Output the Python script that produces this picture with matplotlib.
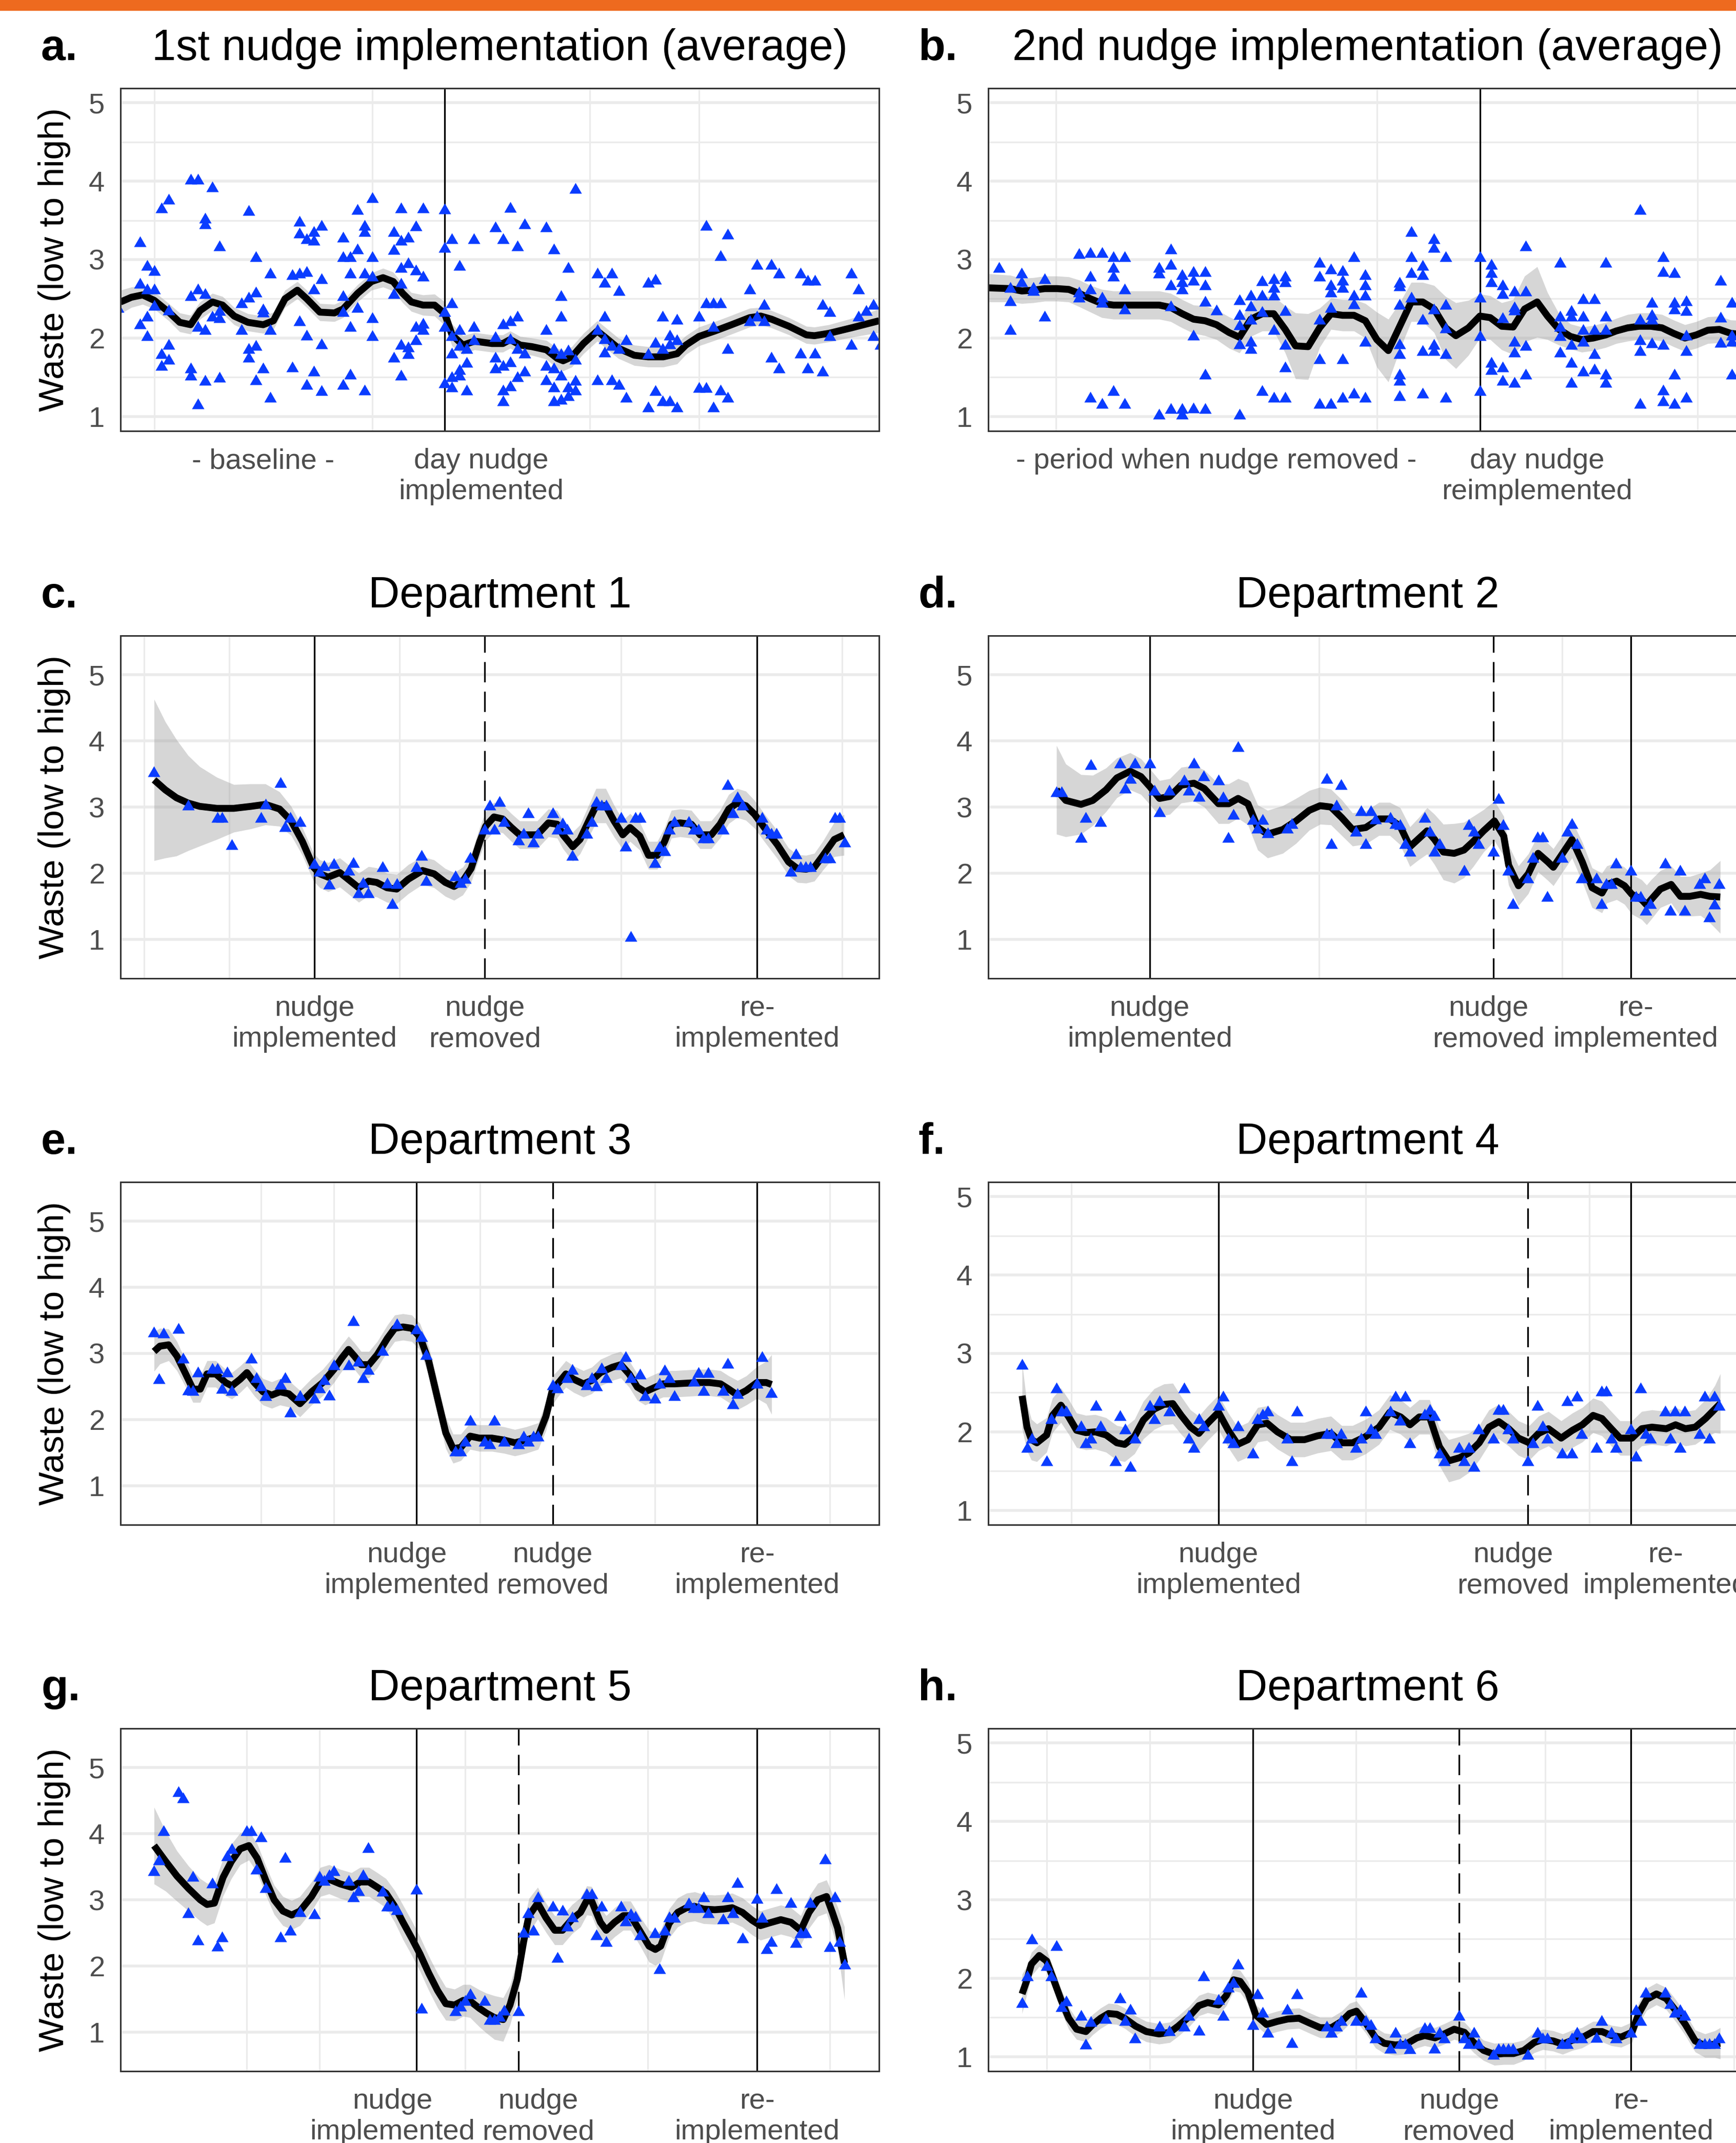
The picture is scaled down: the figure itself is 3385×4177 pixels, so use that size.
import numpy as np
import matplotlib
matplotlib.use("Agg")
import matplotlib.pyplot as plt
from matplotlib.path import Path
from matplotlib.patches import Rectangle

# ---------------- data ----------------
# panel a: 1st nudge implementation (average), several departments per day
a_days = [0, 3, 4, 5, 6, 7, 10, 11, 12, 13, 14, 17, 18, 19, 20, 21, 24, 25, 26, 27, 28,
          31, 32, 33, 34, 35, 38, 39, 40, 41, 42, 45, 46, 47, 48, 49, 52, 53, 54, 55, 56,
          59, 60, 61, 62, 63, 66, 67, 68, 69, 70, 73, 74, 75, 76, 77, 80, 81, 82, 83, 84,
          87, 88, 89, 90, 91, 94, 95, 96, 97, 98, 101, 102, 103, 104, 105]
a_vals = [[2.37], [3.21, 2.68, 2.16], [2.91, 2.61, 2.26, 2.01], [2.84, 2.61, 2.40], [3.64, 1.78, 1.63],
          [3.75, 2.34, 1.90, 1.71], [4.01, 2.52, 1.60, 1.51], [4.01, 2.61, 2.13, 1.14],
          [2.55, 3.51, 3.44, 2.09, 1.44], [3.91, 2.26], [3.16, 2.33, 2.24, 1.48], [2.43, 2.09],
          [3.61, 2.50, 1.85, 1.74], [3.02, 2.57, 1.89, 1.45], [2.35, 2.31, 1.60], [2.81, 2.09, 1.23],
          [2.79, 1.61], [3.47, 3.32, 2.81, 2.20], [3.25, 2.83, 2.02, 1.39], [3.34, 3.23, 2.61, 1.56],
          [3.42, 2.74, 1.91, 1.31], [3.27, 3.02, 2.52, 2.32, 1.39], [3.02, 2.81, 2.13, 1.52],
          [3.62, 3.12, 2.37], [3.42, 3.34, 2.81, 1.32], [3.77, 3.02, 2.77, 2.24, 2.01],
          [3.34, 3.11, 2.55, 1.74], [3.64, 3.23, 2.88, 2.68, 1.90, 1.51], [3.27, 2.94, 1.87, 1.78],
          [3.41, 2.85, 2.13, 1.96], [3.64, 2.77, 2.17, 2.09], [3.63, 3.14, 2.32, 2.13, 1.41],
          [3.25, 2.43, 2.01, 1.79, 1.49, 1.36], [2.91, 2.09, 1.89, 1.58, 1.51], [1.85, 1.67, 1.32],
          [3.25, 2.13, 1.96], [3.40, 2.00, 1.74, 1.60], [3.25, 2.16, 1.63, 1.32, 1.18],
          [3.65, 2.20, 1.97, 1.68, 1.37], [3.16, 2.26, 1.85, 1.49], [3.44, 1.79, 1.56],
          [3.40, 2.09, 1.63, 1.45], [3.12, 1.85, 1.60, 1.36, 1.18], [2.52, 2.26, 1.78, 1.51, 1.20],
          [2.88, 1.83, 1.36, 1.25], [3.89, 1.71, 1.44, 1.32], [2.81, 2.09, 1.45],
          [2.69, 2.26, 1.97, 1.80], [2.81, 1.89, 1.45], [2.59, 1.85, 1.39], [1.96, 1.23],
          [2.69, 1.78, 1.10], [2.73, 1.93, 1.31], [2.26, 1.85, 1.18], [2.02, 1.91, 1.18],
          [2.22, 1.96, 1.10], [2.26, 1.35], [3.42, 2.43, 1.35], [2.43, 2.13, 1.10],
          [3.03, 2.43, 1.32], [3.31, 1.85, 1.23], [2.61, 2.20], [2.92, 2.26], [2.41, 2.20],
          [2.92, 1.74], [2.81, 1.60], [2.81, 1.79], [2.72, 1.60], [2.72, 1.79], [2.41, 1.56],
          [2.32, 2.01], [2.81, 1.90], [2.61, 2.26], [2.33], [2.41, 2.01], [1.90]]
a_fit_day = [0.35, 1.85, 3.4, 5, 7, 8.5, 10, 11.3, 13, 14.4, 16, 17.9, 20, 21.4, 23, 24.7, 26, 27.8,
             29.8, 31, 33, 34.9, 36.5, 37.9, 39.2, 40.4, 42, 43.6, 45, 46, 47.5, 49.1, 51.5, 53,
             54, 55.4, 57, 59, 60.5, 61.3, 62.5, 64.1, 66, 67.2, 68.9, 71.1, 73, 75.1, 77, 78.2,
             80, 82.2, 84.5, 87, 88.5, 90, 92.4, 94.8, 95.9, 97.9, 101, 104.8]
a_fit = [2.46, 2.52, 2.55, 2.48, 2.33, 2.20, 2.17, 2.35, 2.46, 2.42, 2.28, 2.20, 2.17, 2.22, 2.50,
         2.61, 2.50, 2.33, 2.32, 2.37, 2.57, 2.72, 2.77, 2.72, 2.57, 2.46, 2.42, 2.42, 2.31, 2.04,
         1.91, 1.96, 1.93, 1.93, 1.98, 1.91, 1.89, 1.85, 1.74, 1.71, 1.76, 1.93, 2.09, 2.00, 1.87,
         1.78, 1.76, 1.76, 1.80, 1.91, 2.02, 2.09, 2.17, 2.26, 2.28, 2.24, 2.15, 2.04, 2.03, 2.06,
         2.13, 2.22]
a_se = [0.15, 0.13, 0.12, 0.11, 0.11, 0.12, 0.12, 0.11, 0.11, 0.11, 0.11, 0.11, 0.11, 0.11, 0.11,
        0.11, 0.11, 0.11, 0.11, 0.11, 0.11, 0.11, 0.12, 0.12, 0.12, 0.12, 0.13, 0.14, 0.15, 0.14,
        0.12, 0.11, 0.11, 0.11, 0.11, 0.11, 0.11, 0.12, 0.13, 0.13, 0.13, 0.13, 0.13, 0.13, 0.13,
        0.13, 0.13, 0.13, 0.13, 0.12, 0.12, 0.12, 0.12, 0.12, 0.11, 0.11, 0.11, 0.11, 0.11, 0.11,
        0.12, 0.15]

# panel b: 2nd nudge implementation (average)
b_days = [1, 2, 3, 4, 5, 8, 9, 10, 11, 12, 15, 16, 17, 18, 19, 20, 22, 23, 24, 25, 26, 29, 30, 31,
          32, 33, 36, 37, 38, 39, 40, 43, 44, 45, 46, 47, 50, 51, 52, 53, 54, 57, 58, 59, 60, 61,
          64, 65]
b_vals = [[2.88], [2.63, 2.46, 2.09], [2.81, 2.70], [2.63, 2.59], [2.74, 2.26], [3.06, 2.57, 2.50],
          [3.07, 2.77, 2.61, 1.23], [3.07, 2.50, 2.44, 1.15], [3.02, 2.88, 2.77, 1.31],
          [3.02, 2.61, 2.35, 1.15], [2.88, 2.81, 1.01], [3.12, 2.92, 2.66, 2.39, 1.08],
          [2.79, 2.70, 2.61, 1.08, 1.01], [2.83, 2.72, 2.02, 1.09], [2.83, 2.66, 2.45, 1.52, 1.08],
          [2.34], [2.47, 2.28, 2.15, 1.91, 1.01], [2.53, 2.39, 2.22, 1.94, 1.85],
          [2.71, 2.53, 2.32, 1.31], [2.74, 2.63, 2.53, 2.09, 1.23], [2.77, 2.70, 2.33, 1.90, 1.61, 1.23],
          [2.95, 2.77, 2.22, 1.72, 1.15], [2.86, 2.66, 2.57, 2.37, 1.15], [2.84, 2.72, 2.63, 1.72, 1.23],
          [3.02, 2.53, 2.42, 1.28], [2.79, 2.66, 2.53, 1.94, 1.23],
          [2.69, 2.65, 2.41, 1.91, 1.78, 1.52, 1.44, 1.25], [3.34, 3.02, 2.82, 2.50],
          [2.91, 2.79, 2.22, 1.82, 1.28], [3.25, 3.14, 2.35, 1.90, 1.82], [3.02, 2.41, 2.11, 1.78, 1.23],
          [3.02, 2.50, 2.01, 1.31], [2.92, 2.82, 2.70, 1.67, 1.58], [2.66, 2.55, 2.24, 1.61, 1.44],
          [2.58, 2.38, 2.34, 1.94, 1.80, 1.42], [3.16, 2.58, 1.89, 1.52], [2.95, 2.26, 2.13, 2.01, 1.80],
          [2.33, 2.26, 1.90, 1.67, 1.42], [2.48, 2.26, 2.09, 1.94, 1.56], [2.48, 2.09, 1.78, 1.59],
          [2.95, 2.26, 2.09, 1.52, 1.42], [3.62, 2.22, 1.96, 1.82, 1.15], [2.44, 2.28, 2.22, 1.92],
          [3.02, 2.83, 1.90, 1.32, 1.18], [2.82, 2.44, 2.35, 1.52, 1.15], [2.46, 2.33, 2.02, 1.82, 1.23],
          [2.72, 2.25, 1.93], [2.44, 2.02, 1.94, 1.52]]
b_fit_day = [0.07, 2, 3, 4, 5, 6.1, 7.1, 8, 9, 10, 11, 12, 13.6, 15, 16, 17, 18, 19, 20, 21.1, 22,
             23, 24, 25, 26, 26.9, 28, 29, 30, 31, 32, 33, 34, 35, 36, 37, 38, 39, 40, 40.9, 42, 43,
             43.9, 44.9, 45.9, 46.9, 48, 48.9, 49.9, 50.9, 51.9, 52.9, 54, 54.9, 55.9, 56.9, 57.9,
             58.9, 59.9, 60.9, 61.9, 62.9, 63.9, 64.9, 66.3]
b_fit = [2.64, 2.63, 2.60, 2.61, 2.63, 2.63, 2.62, 2.57, 2.50, 2.44, 2.42, 2.42, 2.42, 2.42, 2.39,
         2.31, 2.24, 2.22, 2.17, 2.07, 2.01, 2.24, 2.31, 2.31, 2.11, 1.90, 1.89, 2.13, 2.31, 2.29,
         2.29, 2.22, 1.98, 1.84, 2.15, 2.46, 2.46, 2.37, 2.13, 2.03, 2.13, 2.28, 2.26, 2.15, 2.14,
         2.37, 2.46, 2.28, 2.11, 2.02, 1.98, 2.00, 2.04, 2.09, 2.13, 2.15, 2.15, 2.13, 2.06, 2.00,
         2.04, 2.10, 2.11, 2.06, 2.04]
b_se = [0.18, 0.17, 0.16, 0.16, 0.16, 0.16, 0.16, 0.17, 0.17, 0.18, 0.18, 0.18, 0.18, 0.18, 0.18,
        0.18, 0.18, 0.19, 0.19, 0.20, 0.20, 0.22, 0.22, 0.22, 0.30, 0.42, 0.42, 0.25, 0.20, 0.20,
        0.20, 0.22, 0.35, 0.40, 0.30, 0.25, 0.25, 0.30, 0.40, 0.42, 0.35, 0.28, 0.28, 0.30, 0.35,
        0.42, 0.45, 0.30, 0.20, 0.16, 0.16, 0.16, 0.16, 0.16, 0.17, 0.17, 0.17, 0.17, 0.17, 0.17,
        0.17, 0.17, 0.17, 0.17, 0.18]

# panel c: Department 1
c_days = [7, 14, 20, 21, 23, 29, 30, 33, 34, 35, 37, 40, 41, 42, 43, 44, 47, 48, 49, 50, 51, 54, 55,
          56, 57, 61, 62, 63, 69, 70, 71, 72, 75, 76, 77, 78, 79, 82, 83, 84, 85, 86, 89, 90, 91,
          92, 93, 96, 97, 98, 99, 100, 103, 104, 105, 106, 107, 110, 111, 112, 113, 114, 117, 118,
          119, 120, 121, 124, 125, 126, 127, 128, 132, 133, 134, 135, 138, 139, 140, 141, 142,
          145, 146, 147, 148, 149]
c_vals = [3.51, 3.01, 2.82, 2.82, 2.41, 2.82, 3.02, 3.35, 2.68, 2.82, 2.76, 2.12, 2.01, 2.09, 1.81,
          2.12, 2.02, 2.14, 1.68, 1.84, 1.68, 2.08, 1.83, 1.52, 1.82, 2.08, 2.25, 1.87, 1.94, 1.84,
          1.90, 2.22, 2.64, 3.01, 2.64, 3.06, 2.76, 2.48, 2.58, 2.89, 2.45, 2.58, 2.89, 2.64, 2.74,
          2.64, 2.25, 2.58, 2.76, 3.06, 3.01, 3.01, 2.82, 2.39, 1.02, 2.82, 2.82, 2.14, 2.38, 2.32,
          2.64, 2.76, 2.76, 2.64, 2.64, 2.51, 2.51, 2.64, 3.32, 2.89, 3.13, 3.01, 2.82, 2.64, 2.58,
          2.58, 2.01, 2.27, 2.08, 2.08, 2.08, 2.21, 2.21, 2.82, 2.82, 2.45]
c_fit_day = [7, 9.3, 11.6, 14, 16.4, 19.9, 23.4, 26.9, 29.9, 32.8, 35.2, 37.5, 39.8, 41.1, 42.8,
             45.2, 46.9, 49.1, 51.1, 52.8, 54.9, 56.9, 59.3, 62.2, 64.6, 66.9, 68.7, 70.5, 72.2, 74,
             75.2, 76.9, 78.7, 80.5, 82.2, 84, 85.8, 88.1, 89.9, 91.1, 93.1, 94.6, 96.4, 97.9, 99.9,
             101.6, 103.4, 104.9, 106.9, 108.7, 110.5, 112, 113.4, 115.2, 117.5, 119.3, 121.6,
             123.4, 125.2, 126.9, 128.7, 130.5, 132.8, 135.2, 137.5, 139.3, 141.1, 142.8, 144.6,
             146.9, 148.9]
c_fit = [3.41, 3.26, 3.14, 3.06, 3.01, 2.98, 2.98, 3.01, 3.04, 2.97, 2.79, 2.48, 2.09, 1.99, 1.94,
         2.01, 1.91, 1.78, 1.88, 1.86, 1.78, 1.76, 1.91, 2.04, 1.99, 1.86, 1.80, 1.88, 2.07, 2.48,
         2.71, 2.85, 2.82, 2.69, 2.58, 2.58, 2.58, 2.76, 2.74, 2.58, 2.40, 2.51, 2.79, 3.02, 3.02,
         2.79, 2.58, 2.69, 2.56, 2.27, 2.27, 2.48, 2.74, 2.76, 2.74, 2.58, 2.58, 2.74, 2.97, 3.06,
         3.02, 2.89, 2.66, 2.43, 2.17, 2.07, 2.06, 2.09, 2.27, 2.51, 2.58]
c_se = [1.22, 1.03, 0.88, 0.72, 0.60, 0.47, 0.36, 0.34, 0.31, 0.26, 0.22, 0.21, 0.21, 0.21, 0.22,
        0.22, 0.22, 0.22, 0.22, 0.22, 0.22, 0.22, 0.22, 0.21, 0.21, 0.21, 0.21, 0.21, 0.21, 0.22,
        0.22, 0.22, 0.21, 0.21, 0.21, 0.21, 0.21, 0.21, 0.21, 0.21, 0.22, 0.22, 0.24, 0.26, 0.26,
        0.24, 0.22, 0.21, 0.21, 0.21, 0.21, 0.21, 0.21, 0.21, 0.21, 0.21, 0.21, 0.21, 0.22, 0.22,
        0.22, 0.21, 0.21, 0.21, 0.21, 0.21, 0.21, 0.21, 0.22, 0.26, 0.31]

# panel d: Department 2
d_days = [14, 15, 19, 20, 21, 23, 27, 28, 29, 30, 33, 34, 35, 37, 40, 41, 42, 43, 44, 47, 48, 49,
          50, 51, 54, 55, 56, 57, 61, 62, 69, 70, 71, 72, 75, 76, 77, 78, 79, 82, 83, 84, 85, 86,
          89, 90, 91, 92, 97, 98, 99, 100, 103, 104, 105, 106, 107, 110, 111, 112, 113, 114, 117,
          118, 119, 120, 121, 124, 125, 126, 127, 128, 131, 132, 133, 134, 135, 138, 139, 141,
          142, 145, 146, 147, 148, 149]
d_vals = [3.21, 3.21, 2.52, 2.82, 3.62, 2.76, 3.64, 3.26, 3.41, 3.64, 3.64, 3.23, 2.91, 3.23, 3.39,
          3.23, 3.64, 3.14, 3.45, 3.39, 3.13, 2.52, 2.87, 3.89, 2.79, 2.66, 2.79, 2.59, 2.66, 2.73,
          3.41, 2.43, 3.01, 3.32, 2.61, 2.92, 2.43, 2.92, 2.80, 2.82, 2.73, 2.71, 2.43, 2.31, 2.82,
          2.61, 2.31, 2.43, 2.02, 2.71, 2.61, 2.43, 2.31, 3.11, 2.71, 2.02, 1.52, 1.91, 2.22, 2.53,
          2.53, 1.63, 2.22, 2.61, 2.73, 2.43, 1.91, 1.91, 1.52, 1.82, 1.82, 2.13, 2.02, 1.63, 1.63,
          1.42, 1.52, 2.13, 1.42, 2.02, 1.42, 1.82, 1.91, 1.32, 1.51, 1.82]
d_fit_day = [14, 15.9, 19, 21.4, 24.1, 26.3, 29, 31.2, 33, 35, 37.1, 39.4, 42, 44.1, 47, 49.1, 51,
             53, 55, 57, 60.1, 62.8, 65.5, 67.7, 69.9, 72.1, 74.3, 77, 79.7, 81.9, 84, 86, 87.9,
             89.5, 91, 92.8, 95, 97, 98.9, 101, 103.2, 105.1, 106.1, 108.1, 110.1, 112.1, 114.1,
             115.2, 117.1, 119, 121.1, 123.1, 125.1, 126.1, 128.1, 129.7, 131.2, 133.2, 134.2,
             135.1, 137, 139.2, 141.1, 143, 145.2, 147.1, 149.2]
d_fit = [3.26, 3.10, 3.04, 3.10, 3.26, 3.44, 3.54, 3.46, 3.31, 3.13, 3.16, 3.33, 3.36, 3.28, 3.05,
         3.05, 3.13, 3.05, 2.69, 2.59, 2.66, 2.79, 2.95, 3.02, 3.00, 2.84, 2.66, 2.69, 2.82, 2.82,
         2.71, 2.40, 2.53, 2.64, 2.51, 2.32, 2.30, 2.35, 2.48, 2.64, 2.79, 2.56, 2.12, 1.81, 1.99,
         2.30, 2.17, 2.09, 2.30, 2.51, 2.17, 1.78, 1.70, 1.83, 1.88, 1.81, 1.68, 1.60, 1.52, 1.60,
         1.76, 1.83, 1.65, 1.65, 1.68, 1.65, 1.64]
d_se = [0.67, 0.55, 0.45, 0.38, 0.33, 0.30, 0.28, 0.27, 0.27, 0.27, 0.27, 0.27, 0.27, 0.28, 0.30,
        0.30, 0.30, 0.32, 0.34, 0.36, 0.36, 0.34, 0.30, 0.28, 0.27, 0.27, 0.25, 0.25, 0.25, 0.25,
        0.28, 0.30, 0.32, 0.35, 0.38, 0.42, 0.45, 0.42, 0.38, 0.32, 0.30, 0.30, 0.30, 0.30, 0.30,
        0.28, 0.28, 0.28, 0.28, 0.28, 0.30, 0.30, 0.30, 0.28, 0.28, 0.28, 0.30, 0.30, 0.30, 0.30,
        0.28, 0.28, 0.30, 0.30, 0.32, 0.40, 0.55]

# panel e: Department 3
e_days = [7, 8, 9, 12, 13, 14, 15, 16, 19, 20, 21, 22, 23, 27, 28, 29, 30, 33, 34, 35, 37, 40, 41,
          42, 43, 44, 47, 48, 49, 50, 51, 54, 57, 61, 62, 63, 69, 70, 71, 72, 75, 76, 77, 79, 82,
          83, 84, 85, 86, 89, 90, 92, 93, 96, 97, 98, 99, 100, 103, 104, 105, 107, 108, 110, 111,
          112, 113, 114, 118, 119, 120, 121, 124, 125, 126, 127, 131, 132, 134]
e_vals = [3.30, 2.60, 3.29, 3.36, 2.91, 2.43, 2.42, 2.70, 2.75, 2.75, 2.45, 2.70, 2.42, 2.91, 2.61,
          2.49, 2.34, 2.51, 2.61, 2.09, 2.34, 2.30, 2.46, 2.58, 2.35, 2.81, 2.81, 3.47, 2.86, 2.61,
          2.74, 3.02, 3.43, 3.35, 3.23, 2.96, 1.50, 1.50, 1.65, 1.97, 1.65, 1.61, 1.97, 1.65, 1.61,
          1.73, 1.65, 1.73, 1.73, 2.50, 2.46, 2.61, 2.74, 2.50, 2.61, 2.49, 2.76, 2.61, 2.81, 2.93,
          2.61, 2.67, 2.34, 2.30, 2.53, 2.73, 2.61, 2.34, 2.56, 2.69, 2.42, 2.69, 2.42, 2.83, 2.22,
          2.37, 2.53, 2.93, 2.39]
e_fit_day = [7, 8.2, 10, 11.7, 13.5, 15, 16.5, 17.9, 19.7, 21.7, 23, 24.7, 26.1, 27.6, 29.4, 31.2,
             32.9, 34.7, 37, 39.4, 41.7, 44, 45.6, 47, 48.2, 49.6, 51.2, 52.9, 55, 56.5, 58.2, 60,
             61.7, 63.5, 65.3, 67, 68.5, 70.1, 72, 73.9, 76.5, 79, 81.2, 83.5, 86, 87.6, 88.9, 90,
             91.7, 93.3, 95.3, 97, 98.8, 101.2, 103, 104.7, 106.4, 108, 110.1, 111.7, 114.1, 116.5,
             118.8, 121.2, 123.5, 125.2, 127, 128.8, 131, 132.9, 134]
e_fit = [3.03, 3.11, 3.13, 2.96, 2.69, 2.46, 2.46, 2.69, 2.69, 2.56, 2.51, 2.61, 2.71, 2.56, 2.42,
         2.37, 2.42, 2.39, 2.24, 2.42, 2.56, 2.76, 2.93, 3.06, 2.96, 2.83, 2.83, 2.98, 3.23, 3.38,
         3.40, 3.38, 3.25, 2.88, 2.32, 1.80, 1.56, 1.58, 1.75, 1.72, 1.72, 1.69, 1.65, 1.69, 1.75,
         2.05, 2.44, 2.54, 2.69, 2.61, 2.54, 2.59, 2.71, 2.79, 2.83, 2.69, 2.49, 2.42, 2.49, 2.54,
         2.54, 2.55, 2.56, 2.56, 2.54, 2.46, 2.37, 2.44, 2.56, 2.56, 2.53]
e_se = [0.30, 0.27, 0.24, 0.22, 0.20, 0.20, 0.20, 0.20, 0.20, 0.20, 0.20, 0.20, 0.20, 0.20, 0.20,
        0.20, 0.20, 0.20, 0.20, 0.20, 0.20, 0.20, 0.20, 0.20, 0.20, 0.20, 0.20, 0.20, 0.20, 0.20,
        0.20, 0.20, 0.20, 0.22, 0.24, 0.24, 0.22, 0.20, 0.20, 0.20, 0.20, 0.20, 0.20, 0.20, 0.20,
        0.22, 0.22, 0.20, 0.20, 0.20, 0.20, 0.20, 0.20, 0.20, 0.20, 0.20, 0.20, 0.20, 0.20, 0.20,
        0.20, 0.20, 0.20, 0.20, 0.20, 0.20, 0.22, 0.22, 0.24, 0.32, 0.45]

# panel f: Department 4
f_days = [7, 8, 9, 12, 13, 14, 15, 16, 19, 20, 21, 22, 23, 26, 27, 28, 29, 30, 33, 34, 35, 37, 40,
          41, 42, 43, 44, 47, 48, 49, 50, 51, 54, 55, 56, 57, 61, 62, 63, 69, 70, 71, 72, 75, 76,
          77, 78, 79, 82, 83, 84, 85, 86, 89, 90, 91, 92, 93, 96, 97, 98, 99, 100, 103, 104, 105,
          106, 107, 110, 111, 112, 113, 114, 117, 118, 119, 120, 121, 124, 125, 126, 127, 128,
          131, 132, 133, 134, 135, 138, 139, 140, 141, 142, 145, 146, 147, 148, 149]
f_vals = [2.84, 1.78, 1.90, 1.61, 2.15, 2.54, 2.25, 2.25, 2.06, 1.84, 1.90, 2.32, 2.06, 1.61, 2.19,
          2.02, 1.54, 1.90, 2.32, 2.15, 2.38, 2.25, 2.54, 1.90, 1.78, 2.15, 2.06, 2.32, 2.44, 1.90,
          1.84, 2.06, 1.71, 2.15, 2.21, 2.25, 1.90, 1.61, 2.25, 1.96, 1.96, 1.84, 1.96, 1.78, 1.90,
          2.25, 2.02, 1.96, 2.25, 2.44, 2.13, 2.44, 1.84, 2.21, 2.27, 2.19, 1.71, 1.61, 1.78, 1.61,
          1.78, 1.54, 2.02, 1.90, 2.27, 2.27, 2.02, 1.90, 1.61, 1.84, 2.32, 2.06, 1.90, 1.71, 2.38,
          1.71, 2.44, 1.96, 1.78, 2.50, 2.50, 1.90, 1.78, 2.02, 1.67, 2.54, 1.96, 1.90, 2.25, 1.90,
          2.25, 1.78, 2.25, 1.96, 2.44, 1.90, 2.44, 2.32]
f_fit_day = [7, 8, 8.9, 10, 12, 13.2, 14.9, 16.5, 18.1, 20, 21.9, 24.1, 26.3, 27.9, 29.9, 31.7,
             33.9, 35.9, 37.7, 39.4, 41.3, 43, 44.8, 47, 49, 50.9, 53, 55, 56.9, 59, 61.7, 64.5,
             67.2, 69.9, 72.1, 74.3, 77, 79.7, 81.9, 84.1, 86, 87.9, 90, 92, 93.9, 96.1, 98, 100.1,
             102.1, 104.1, 106.1, 108.1, 110.3, 112.2, 114.2, 116.8, 119.1, 121.1, 123.3, 125.1,
             127, 128.8, 131.2, 133.2, 135.3, 138.2, 140.1, 142.1, 144.1, 146.2, 148.1, 149.2]
f_fit = [2.46, 2.06, 1.90, 1.86, 1.96, 2.21, 2.34, 2.19, 2.02, 1.99, 2.00, 1.96, 1.86, 1.84, 1.94,
         2.15, 2.29, 2.35, 2.36, 2.21, 2.06, 1.98, 2.11, 2.25, 2.02, 1.84, 1.90, 2.09, 2.11, 2.00,
         1.90, 1.90, 1.95, 1.98, 1.86, 1.86, 1.94, 2.06, 2.25, 2.19, 2.09, 2.19, 2.19, 1.81, 1.63,
         1.67, 1.73, 1.86, 2.06, 2.13, 2.04, 1.92, 1.86, 1.98, 2.04, 1.92, 2.02, 2.09, 2.21, 2.17,
         2.04, 1.92, 1.92, 2.04, 2.06, 2.04, 2.09, 2.04, 2.06, 2.17, 2.29, 2.36]
f_se = [0.42, 0.30, 0.26, 0.24, 0.22, 0.22, 0.22, 0.22, 0.22, 0.22, 0.22, 0.22, 0.22, 0.22, 0.22,
        0.24, 0.26, 0.26, 0.26, 0.24, 0.22, 0.22, 0.22, 0.22, 0.22, 0.22, 0.22, 0.22, 0.22, 0.22,
        0.22, 0.22, 0.22, 0.22, 0.22, 0.22, 0.22, 0.22, 0.22, 0.22, 0.22, 0.22, 0.22, 0.24, 0.27,
        0.27, 0.25, 0.22, 0.22, 0.22, 0.22, 0.22, 0.22, 0.22, 0.22, 0.22, 0.22, 0.22, 0.22, 0.22,
        0.22, 0.22, 0.22, 0.22, 0.22, 0.22, 0.22, 0.22, 0.22, 0.24, 0.30, 0.38]

# panel g: Department 5
g_days = [7, 8, 9, 12, 13, 14, 15, 16, 19, 20, 21, 22, 23, 26, 27, 28, 29, 30, 33, 34, 35, 37, 40,
          41, 42, 43, 44, 47, 48, 49, 50, 51, 54, 55, 56, 57, 61, 62, 69, 70, 71, 72, 75, 76, 77,
          78, 79, 82, 83, 84, 85, 86, 89, 90, 91, 92, 93, 96, 97, 98, 99, 100, 103, 104, 105, 106,
          107, 110, 111, 112, 113, 114, 117, 118, 119, 120, 121, 124, 125, 126, 127, 128, 131,
          132, 133, 134, 135, 138, 139, 140, 141, 142, 145, 146, 147, 148, 149]
g_vals = [3.42, 3.58, 4.02, 4.61, 4.52, 2.78, 3.33, 2.37, 3.23, 2.28, 2.42, 3.64, 3.75, 4.02, 4.02,
          3.44, 3.93, 3.16, 2.42, 3.62, 2.52, 2.80, 2.77, 3.33, 3.27, 3.36, 3.42, 3.27, 3.02, 3.12,
          3.36, 3.77, 3.11, 2.88, 2.88, 2.83, 3.14, 1.34, 1.30, 1.37, 1.46, 1.56, 1.46, 1.17, 1.17,
          1.22, 1.31, 1.30, 2.49, 2.78, 2.52, 3.02, 2.88, 2.11, 2.82, 2.58, 2.72, 3.07, 3.07, 2.45,
          2.88, 2.35, 2.88, 2.66, 2.77, 2.73, 2.45, 2.48, 1.94, 2.52, 2.72, 2.71, 2.93, 2.86, 2.86,
          3.02, 2.78, 2.69, 3.02, 2.78, 3.24, 2.40, 3.00, 2.71, 2.24, 2.35, 3.15, 2.94, 2.33, 2.48,
          2.48, 2.94, 3.60, 2.27, 3.02, 2.35, 2.01]
g_fit_day = [7, 9.4, 11.7, 14.1, 16.5, 17.9, 19.4, 21.2, 22.9, 24.7, 26.5, 28.2, 30, 31.7, 33.5,
             35.3, 37, 39.4, 41.2, 43, 45.3, 47.6, 49.4, 51.2, 52.9, 54.7, 56.5, 58.2, 60, 61.7,
             63.5, 65.3, 67, 68.8, 70.6, 72, 73.9, 75.3, 77, 78.8, 80.2, 81.7, 83, 84.1, 85.9, 87.6,
             89.4, 91, 93, 94.7, 96, 97, 98.8, 100, 101.7, 103.5, 105, 107, 108.8, 110.1, 111.2,
             112.9, 114.7, 116.5, 118.2, 120, 122.3, 124.1, 125.9, 128, 130, 131.7, 133.5, 135.9,
             138, 140, 141.7, 143.5, 145.3, 146.5, 147.6, 149]
g_fit = [3.82, 3.58, 3.36, 3.17, 3.00, 2.93, 2.95, 3.34, 3.58, 3.77, 3.82, 3.63, 3.29, 3.00, 2.83,
         2.77, 2.83, 3.05, 3.27, 3.31, 3.24, 3.19, 3.27, 3.27, 3.19, 3.10, 2.90, 2.66, 2.42, 2.18,
         1.89, 1.63, 1.43, 1.41, 1.48, 1.47, 1.36, 1.29, 1.22, 1.19, 1.41, 1.80, 2.37, 2.76, 2.95,
         2.73, 2.54, 2.54, 2.71, 2.81, 2.99, 2.98, 2.66, 2.54, 2.66, 2.76, 2.76, 2.52, 2.30, 2.25,
         2.30, 2.64, 2.81, 2.88, 2.90, 2.86, 2.85, 2.86, 2.88, 2.81, 2.69, 2.61, 2.65, 2.70, 2.66,
         2.54, 2.81, 3.00, 3.05, 2.81, 2.57, 2.04]
g_se = [0.58, 0.45, 0.38, 0.34, 0.32, 0.32, 0.30, 0.28, 0.26, 0.24, 0.22, 0.22, 0.22, 0.22, 0.22,
        0.22, 0.22, 0.22, 0.22, 0.22, 0.22, 0.22, 0.22, 0.22, 0.22, 0.22, 0.24, 0.26, 0.26, 0.26,
        0.26, 0.26, 0.25, 0.24, 0.24, 0.25, 0.28, 0.30, 0.33, 0.33, 0.30, 0.30, 0.28, 0.26, 0.24,
        0.22, 0.22, 0.22, 0.22, 0.22, 0.22, 0.22, 0.22, 0.22, 0.22, 0.22, 0.22, 0.22, 0.24, 0.24,
        0.24, 0.22, 0.22, 0.22, 0.22, 0.22, 0.22, 0.22, 0.22, 0.22, 0.22, 0.22, 0.22, 0.22, 0.22,
        0.22, 0.24, 0.25, 0.25, 0.28, 0.32, 0.55]

# panel h: Department 6
h_days = [7, 8, 9, 12, 13, 14, 15, 16, 19, 20, 21, 24, 27, 28, 29, 30, 35, 37, 40, 41, 43, 44, 47,
          48, 49, 50, 51, 54, 55, 56, 57, 61, 62, 63, 69, 70, 71, 72, 75, 76, 77, 78, 79, 82, 83,
          84, 85, 86, 89, 90, 91, 92, 93, 96, 97, 98, 99, 100, 103, 104, 105, 106, 107, 110, 112,
          113, 114, 117, 118, 119, 120, 121, 124, 125, 127, 128, 131, 132, 133, 134, 138, 139,
          140, 141, 142, 145, 146, 147, 148, 149]
h_vals = [1.67, 2.01, 2.48, 2.14, 2.01, 2.40, 1.62, 1.69, 1.51, 1.14, 1.43, 1.47, 1.73, 1.44, 1.59,
          1.22, 1.37, 1.31, 1.37, 1.51, 1.32, 2.01, 1.71, 1.51, 1.87, 1.93, 2.16, 1.39, 1.78, 1.55,
          1.29, 1.59, 1.16, 1.78, 1.37, 1.29, 1.37, 1.44, 1.44, 1.80, 1.44, 1.39, 1.22, 1.09, 1.29,
          1.15, 1.15, 1.08, 1.35, 1.35, 1.09, 1.29, 1.22, 1.51, 1.22, 1.15, 1.29, 1.15, 1.01, 1.08,
          1.08, 1.08, 1.08, 1.01, 1.29, 1.22, 1.22, 1.15, 1.15, 1.22, 1.29, 1.22, 1.23, 1.44, 1.29,
          1.22, 1.29, 1.58, 1.44, 1.80, 1.80, 1.66, 1.55, 1.58, 1.51, 1.15, 1.15, 1.15, 1.15, 1.22]
h_fit_day = [7, 8, 8.9, 10.5, 12, 13.2, 14.9, 16.5, 18.1, 20, 21.4, 23, 24.6, 26.3, 27.9, 30.1,
             32.3, 34.9, 37.1, 38.8, 41, 43, 44.8, 47, 48.6, 50.1, 51.4, 53, 54.6, 56.8, 59, 61.1,
             63.4, 65.5, 67.7, 70, 72.1, 73.7, 75.1, 77, 79, 80.8, 83, 85.2, 87.4, 89, 91.1, 93, 95,
             97.1, 99, 101, 103.2, 105.1, 107.1, 109.2, 111.3, 113.1, 115.2, 117.1, 119.1, 121,
             123.3, 125.1, 127, 129, 131.2, 132.6, 134.2, 136.2, 138.2, 140.1, 142.1, 144.1, 146.1,
             148.1, 149.2]
h_fit = [1.80, 1.98, 2.18, 2.29, 2.22, 2.02, 1.73, 1.49, 1.35, 1.32, 1.41, 1.49, 1.55, 1.54, 1.49,
         1.39, 1.32, 1.29, 1.31, 1.39, 1.51, 1.65, 1.69, 1.66, 1.78, 1.98, 1.96, 1.82, 1.53, 1.41,
         1.45, 1.48, 1.49, 1.43, 1.37, 1.37, 1.45, 1.55, 1.58, 1.43, 1.24, 1.17, 1.15, 1.16, 1.24,
         1.27, 1.24, 1.29, 1.35, 1.31, 1.18, 1.08, 1.03, 1.04, 1.04, 1.08, 1.18, 1.22, 1.20, 1.16,
         1.21, 1.24, 1.32, 1.32, 1.27, 1.25, 1.31, 1.55, 1.73, 1.80, 1.74, 1.59, 1.41, 1.20, 1.14,
         1.16, 1.17]
h_se = [0.25, 0.18, 0.15, 0.14, 0.14, 0.14, 0.14, 0.14, 0.13, 0.13, 0.13, 0.13, 0.13, 0.13, 0.13,
        0.13, 0.13, 0.13, 0.13, 0.13, 0.13, 0.13, 0.13, 0.13, 0.13, 0.14, 0.14, 0.14, 0.13, 0.13,
        0.13, 0.13, 0.13, 0.13, 0.13, 0.13, 0.13, 0.13, 0.13, 0.13, 0.13, 0.13, 0.13, 0.13, 0.13,
        0.13, 0.13, 0.13, 0.13, 0.13, 0.13, 0.13, 0.14, 0.14, 0.14, 0.13, 0.13, 0.13, 0.13, 0.13,
        0.13, 0.13, 0.13, 0.13, 0.13, 0.13, 0.13, 0.14, 0.14, 0.14, 0.14, 0.14, 0.14, 0.14, 0.15,
        0.17, 0.20]

# x-axis breaks / labels and the event days (vertical lines)
LAB_IMPL = 'nudge\nimplemented'
LAB_REM = 'nudge\nremoved'
LAB_RE = 're-\nimplemented'
a_breaks, a_labels = [20, 50], ['- baseline -', 'day nudge\nimplemented']
b_breaks, b_labels = [20, 48], ['- period when nudge removed -', 'day nudge\nreimplemented']
a_solid, b_solid = [45], [43]
c_breaks, c_solid, c_dash = [40, 75, 131], [40, 131], [75]
d_breaks, d_solid, d_dash = [33, 102, 132], [33, 131], [103]
e_breaks, e_solid, e_dash = [59, 89, 131], [61, 131], [89]
f_breaks, f_solid, f_dash = [47, 107, 138], [47, 131], [110]
g_breaks, g_solid, g_dash = [56, 86, 131], [61, 131], [82]
h_breaks, h_solid, h_dash = [54, 96, 131], [54, 131], [96]

# ---------------- drawing ----------------
W, H, DPI = 3385, 4177, 100
plt.rcParams['font.family'] = ['Liberation Sans', 'DejaVu Sans']

BLUE = '#0A3CFF'
GRID = '#EBEBEB'
TICK = '#4D4D4D'
PX = 72.0 / DPI  # points per pixel

# ggplot-like filled equilateral triangle
TRI = Path([(-1.0, -0.577), (1.0, -0.577), (0.0, 1.155), (-1.0, -0.577)],
           [Path.MOVETO, Path.LINETO, Path.LINETO, Path.CLOSEPOLY])

fig = plt.figure(figsize=(W / DPI, H / DPI), dpi=DPI)
fig.patches.append(Rectangle((0, 1 - 21 / H), 1, 21 / H, transform=fig.transFigure,
                             facecolor='#EE6A1F', edgecolor='none'))


def flatten(days, groups):
    xs, ys = [], []
    for d, g in zip(days, groups):
        xs += [d] * len(g)
        ys += list(g)
    return xs, ys


def minor_breaks(breaks, lo, hi):
    # same rule as ggplot2: midpoints between (extended) major breaks
    b = list(breaks)
    bd = b[1] - b[0]
    if lo < b[0]:
        b = [b[0] - bd] + b
    if hi > b[-1]:
        b = b + [b[-1] + bd]
    cand = sorted(set(b + [(p + q) / 2 for p, q in zip(b[:-1], b[1:])]))
    return [m for m in cand if lo < m < hi and m not in breaks]


COL_X = [235, 1927]
ROW_TOP = [172, 1239, 2304, 3369]
AX_W, AX_H = 1479, 668
LETTER_X = [80, 1790]


def draw_panel(col, row, letter, title, px, py, fx, fy, fse, xlim, ylim,
               breaks, labels, solid, dashed, minor_y):
    x0, top = COL_X[col], ROW_TOP[row]
    ax = fig.add_axes([x0 / W, 1 - (top + AX_H) / H, AX_W / W, AX_H / H])
    ax.set_xlim(xlim)
    ax.set_ylim(ylim)

    for m in minor_breaks(breaks, *xlim):
        ax.axvline(m, color=GRID, lw=3.2 * PX, zorder=0.5)
    for yv in [1, 2, 3, 4, 5]:
        ax.axhline(yv, color=GRID, lw=5.5 * PX, zorder=0.5)
    if minor_y:
        for yv in [1.5, 2.5, 3.5, 4.5]:
            ax.axhline(yv, color=GRID, lw=3.2 * PX, zorder=0.5)

    fy = np.array(fy)
    fse = np.array(fse)
    ax.fill_between(fx, fy - fse, fy + fse, color='#999999', alpha=0.4, lw=0, zorder=2)
    for xv in solid:
        ax.axvline(xv, color='black', lw=3.3 * PX, zorder=2.5)
    for xv in dashed:
        ax.axvline(xv, color='black', lw=3.3 * PX, zorder=2.5, dashes=(12, 5.5))
    ax.plot(fx, fy, color='black', lw=13.5 * PX, solid_joinstyle='round',
            solid_capstyle='butt', zorder=3)
    ax.plot(px, py, ls='none', marker=TRI, ms=28 * PX, color=BLUE, mec='none', zorder=4)

    ax.set_xticks(breaks)
    ax.set_xticklabels(labels)
    ax.set_yticks([1, 2, 3, 4, 5])
    ax.tick_params(axis='both', length=0, labelsize=40.5, labelcolor=TICK)
    ax.tick_params(axis='x', pad=24)
    ax.tick_params(axis='y', pad=22)
    for t in ax.get_xticklabels():
        t.set_linespacing(1.2)
    for s in ax.spines.values():
        s.set_color('#333333')
        s.set_linewidth(3 * PX)
        s.set_zorder(10)

    ax.annotate(title, xy=(0.5, 1), xycoords='axes fraction', xytext=(0, 55 * PX),
                textcoords='offset points', ha='center', va='baseline', fontsize=61)
    fig.text(LETTER_X[col] / W, 1 - (top - 55) / H, letter, fontsize=62,
             fontweight='bold', ha='left', va='baseline')
    if col == 0:
        fig.text(106 / W, 1 - (top + AX_H / 2) / H, 'Waste (low to high)', rotation=90,
                 ha='center', va='center', fontsize=50)
    return ax


ax_px, ax_py = flatten(a_days, a_vals)
bx_px, bx_py = flatten(b_days, b_vals)

Y_WIDE = (0.815, 5.185)
Y_TALL = (0.41, 5.59)
X_LEFT = (0.1, 156.1)
X_RIGHT = (0.11, 154.6)

draw_panel(0, 0, 'a.', '1st nudge implementation (average)', ax_px, ax_py,
           a_fit_day, a_fit, a_se, (0.35, 104.8), Y_WIDE, a_breaks, a_labels, a_solid, [], True)
draw_panel(1, 0, 'b.', '2nd nudge implementation (average)', bx_px, bx_py,
           b_fit_day, b_fit, b_se, (0.07, 66.3), Y_WIDE, b_breaks, b_labels, b_solid, [], True)
draw_panel(0, 1, 'c.', 'Department 1', c_days, c_vals, c_fit_day, c_fit, c_se, X_LEFT, Y_TALL,
           c_breaks, [LAB_IMPL, LAB_REM, LAB_RE], c_solid, c_dash, False)
draw_panel(1, 1, 'd.', 'Department 2', d_days, d_vals, d_fit_day, d_fit, d_se, X_RIGHT, Y_TALL,
           d_breaks, [LAB_IMPL, LAB_REM, LAB_RE], d_solid, d_dash, False)
draw_panel(0, 2, 'e.', 'Department 3', e_days, e_vals, e_fit_day, e_fit, e_se, X_LEFT, Y_TALL,
           e_breaks, [LAB_IMPL, LAB_REM, LAB_RE], e_solid, e_dash, False)
draw_panel(1, 2, 'f.', 'Department 4', f_days, f_vals, f_fit_day, f_fit, f_se, X_RIGHT, Y_WIDE,
           f_breaks, [LAB_IMPL, LAB_REM, LAB_RE], f_solid, f_dash, True)
draw_panel(0, 3, 'g.', 'Department 5', g_days, g_vals, g_fit_day, g_fit, g_se, X_LEFT, Y_TALL,
           g_breaks, [LAB_IMPL, LAB_REM, LAB_RE], g_solid, g_dash, False)
draw_panel(1, 3, 'h.', 'Department 6', h_days, h_vals, h_fit_day, h_fit, h_se, X_RIGHT, Y_WIDE,
           h_breaks, [LAB_IMPL, LAB_REM, LAB_RE], h_solid, h_dash, True)

fig.savefig('out.png', dpi=DPI, facecolor='white')
